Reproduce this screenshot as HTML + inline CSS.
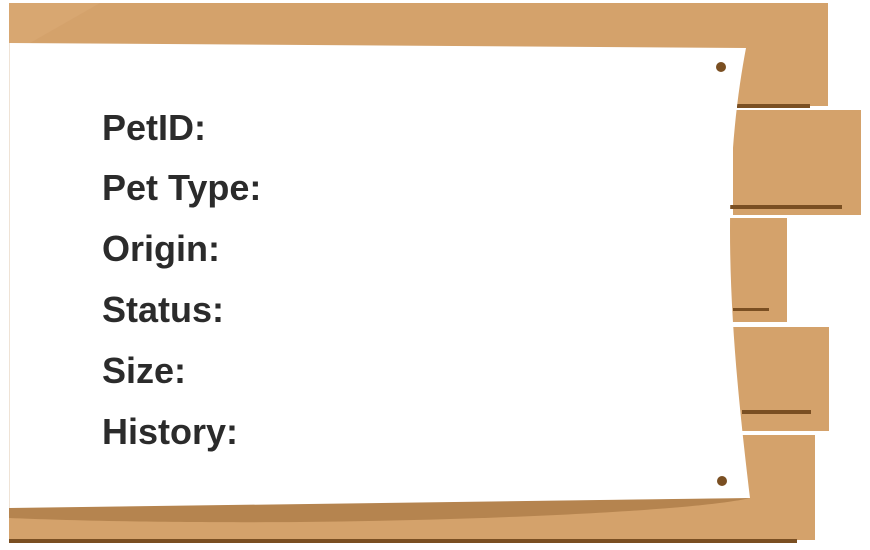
<!DOCTYPE html>
<html><head><meta charset="utf-8"><style>
html,body{margin:0;padding:0;background:#fff;width:870px;height:550px;overflow:hidden}
svg{display:block}
text{font-family:"Liberation Sans",sans-serif;font-weight:bold;font-size:36px;fill:#2b2b2b}
</style></head><body>
<svg width="870" height="550" viewBox="0 0 870 550">
<g fill="#d4a26b">
<rect x="9" y="3" width="819" height="103"/>
<rect x="733" y="110" width="128" height="105"/>
<rect x="730" y="218" width="57" height="104"/>
<rect x="733" y="327" width="96" height="104"/>
<rect x="738" y="435" width="77" height="104"/>
<rect x="9" y="460" width="806" height="80"/>
</g>
<polygon points="9,3 100,3 30,43 9,43" fill="#dbab78" opacity="0.5"/>
<g fill="#7a4f22">
<rect x="737" y="104" width="73" height="4"/>
<rect x="730" y="205" width="112" height="4"/>
<rect x="733" y="308" width="36" height="3"/>
<rect x="742" y="410" width="69" height="4"/>
<rect x="9" y="539" width="788" height="4"/>
</g>
<path d="M9,507 L750,498 C700,510 500,520 300,522 C150,523 60,520 9,518 Z" fill="#b5844f"/>
<path d="M9,43 L746,48 C738,90 730,150 730,230 C730,330 742,430 750,498 L9,508 Z" fill="#fff"/>
<line x1="9.5" y1="43" x2="9.5" y2="508" stroke="#efe3d6" stroke-width="1"/>
<circle cx="721" cy="67" r="5" fill="#7a4f22"/>
<circle cx="722" cy="481" r="5" fill="#7a4f22"/>
<text x="102" y="140">PetID:</text>
<text x="102" y="200">Pet Type:</text>
<text x="102" y="261">Origin:</text>
<text x="102" y="322">Status:</text>
<text x="102" y="383">Size:</text>
<text x="102" y="444">History:</text>
</svg>
</body></html>
